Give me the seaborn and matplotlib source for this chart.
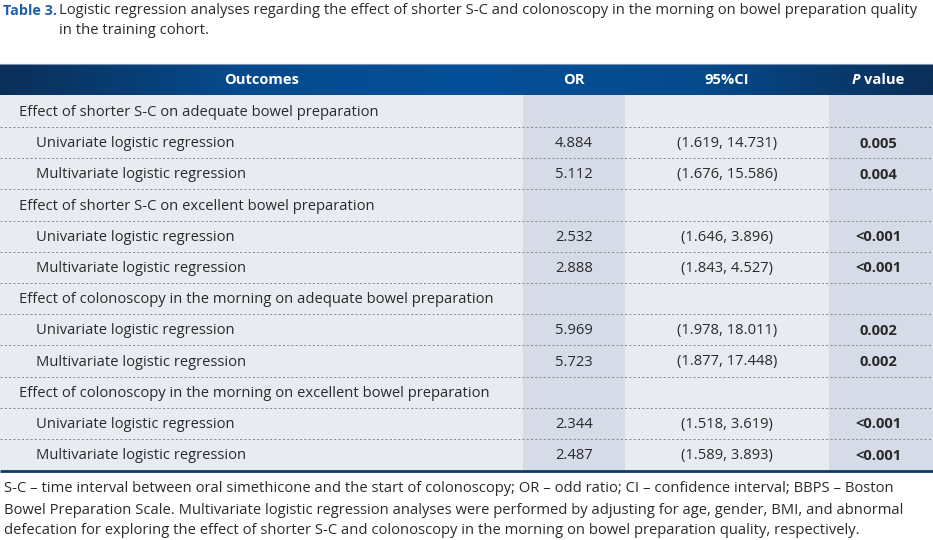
import numpy as np
import matplotlib
matplotlib.use("Agg")
import matplotlib.pyplot as plt
from matplotlib.colors import LinearSegmentedColormap
from matplotlib.patches import Rectangle
import seaborn as sns

sns.set_theme(style="white")
plt.rcParams['font.family'] = ['Open Sans', 'DejaVu Sans']

# ---------------- data ----------------
title_bold = "Table 3."
title_rest = ("Logistic regression analyses regarding the effect of shorter S-C and colonoscopy in the morning on bowel preparation quality")
title_line2 = "in the training cohort."
headers = ["Outcomes", "OR", "95%CI", "P", "value"]
outcomes = [
    "Effect of shorter S-C on adequate bowel preparation",
    "Univariate logistic regression",
    "Multivariate logistic regression",
    "Effect of shorter S-C on excellent bowel preparation",
    "Univariate logistic regression",
    "Multivariate logistic regression",
    "Effect of colonoscopy in the morning on adequate bowel preparation",
    "Univariate logistic regression",
    "Multivariate logistic regression",
    "Effect of colonoscopy in the morning on excellent bowel preparation",
    "Univariate logistic regression",
    "Multivariate logistic regression",
]
is_group = [True, False, False, True, False, False, True, False, False, True, False, False]
or_vals = ["", "4.884", "5.112", "", "2.532", "2.888", "", "5.969", "5.723", "", "2.344", "2.487"]
ci_vals = ["", "(1.619, 14.731)", "(1.676, 15.586)", "", "(1.646, 3.896)", "(1.843, 4.527)",
           "", "(1.978, 18.011)", "(1.877, 17.448)", "", "(1.518, 3.619)", "(1.589, 3.893)"]
p_vals = ["", "0.005", "0.004", "", "<0.001", "<0.001", "", "0.002", "0.002", "", "<0.001", "<0.001"]
footnote = [
    "S-C \u2013 time interval between oral simethicone and the start of colonoscopy; OR \u2013 odd ratio; CI \u2013 confidence interval; BBPS \u2013 Boston",
    "Bowel Preparation Scale. Multivariate logistic regression analyses were performed by adjusting for age, gender, BMI, and abnormal",
    "defecation for exploring the effect of shorter S-C and colonoscopy in the morning on bowel preparation quality, respectively.",
]

# ---------------- layout ----------------
W, H = 933, 540
fig = plt.figure(figsize=(W / 100, H / 100), dpi=100)
ax = fig.add_axes([0, 0, 1, 1])
ax.set_xlim(0, W)
ax.set_ylim(H, 0)
ax.axis('off')

col_edges = [0, 523, 625, 829, W]
col_centers = [262, 574, 727, 878]
head_top, head_bot = 64, 95
body_top = 95
first_line = 127
row_h = 31.2
n = len(outcomes)
body_bot = first_line + row_h * (n - 1)

light = "#e8ebf2"
shade = "#d5dbe7"
txt = "#2a2a2a"
navy = "#0d3a66"
fs = 10.6

# body background
ax.add_patch(Rectangle((0, body_top), W, body_bot - body_top, color=light, lw=0, zorder=0))
for ci in (1, 3):
    ax.add_patch(Rectangle((col_edges[ci], body_top), col_edges[ci + 1] - col_edges[ci],
                           body_bot - body_top, color=shade, lw=0, zorder=1))

# header gradient
cmap = LinearSegmentedColormap.from_list("hdr", ["#0b2f58", "#064a8c", "#05509a", "#064a8c", "#0b2f58"])
grad = np.linspace(0, 1, 400)[None, :]
ax.imshow(grad, extent=(0, W, head_bot, head_top), aspect='auto', cmap=cmap, zorder=2)
ax.plot([0, W], [head_top, head_top], color="#7a93b3", lw=0.8, zorder=3)
ax.set_xlim(0, W)
ax.set_ylim(H, 0)

renderer = fig.canvas.get_renderer()

def width_of(t):
    return t.get_window_extent(renderer=renderer).width

hy = (head_top + head_bot) / 2 + 1
hkw = dict(color="white", fontsize=10.6, fontweight='bold', va='center', zorder=4)
ax.text(col_centers[0], hy, headers[0], ha='center', **hkw)
ax.text(col_centers[1], hy, headers[1], ha='center', **hkw)
ax.text(col_centers[2], hy, headers[2], ha='center', **hkw)
tp = ax.text(0, hy, headers[3], ha='left', fontstyle='italic', **hkw)
tv = ax.text(0, hy, headers[4], ha='left', **hkw)
wp, wv = width_of(tp), width_of(tv)
gap = 4
x_start = col_centers[3] - (wp + gap + wv) / 2
tp.set_x(x_start)
tv.set_x(x_start + wp + gap)

# rows
for i in range(n):
    top = body_top if i == 0 else first_line + row_h * (i - 1)
    bot = first_line + row_h * i
    cy = (top + bot) / 2 + 1
    x0 = 19 if is_group[i] else 36
    ax.text(x0, cy, outcomes[i], color=txt, fontsize=fs, va='center', ha='left', zorder=4)
    if or_vals[i]:
        ax.text(col_centers[1], cy, or_vals[i], color=txt, fontsize=fs, va='center', ha='center', zorder=4)
        ax.text(col_centers[2], cy, ci_vals[i], color=txt, fontsize=fs, va='center', ha='center', zorder=4)
        ax.text(col_centers[3], cy, p_vals[i], color=txt, fontsize=fs,
                fontweight='bold', va='center', ha='center', zorder=4)
    if i < n - 1:
        ax.plot([0, W], [bot, bot], color="#8c8c8c", lw=0.7, ls=(0, (2.2, 2.2)), zorder=3)

ax.plot([0, W], [body_bot + 1, body_bot + 1], color=navy, lw=2.0, zorder=5, solid_capstyle='butt')

# title
ax.text(3, 11, title_bold, color="#1d5fa8", fontsize=10.4, fontweight='bold', va='center', ha='left')
ax.text(59, 11, title_rest, color=txt, fontsize=10.65, va='center', ha='left')
ax.text(59, 31, title_line2, color=txt, fontsize=10.65, va='center', ha='left')

# footnote
for k, line in enumerate(footnote):
    ax.text(4, 489 + 21 * k, line, color=txt, fontsize=10.6, va='center', ha='left')

fig.savefig("out.png", dpi=100)
